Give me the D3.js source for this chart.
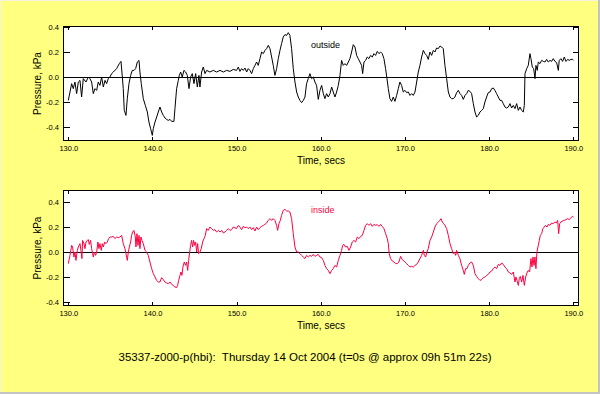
<!DOCTYPE html>
<html>
<head>
<meta charset="utf-8">
<script src="https://cdn.jsdelivr.net/npm/d3@7"></script>
<style>
  html, body { margin: 0; padding: 0; background: #ffff80; }
  svg { display: block; }
  text { font-family: "Liberation Sans", Arial, sans-serif; }
</style>
</head>
<body>
<svg id="chart" width="600" height="394"></svg>
<script>
// pressure traces, [time s, pressure kPa]
const outside = [
[130.00,-0.187],[130.40,-0.053],[130.59,-0.093],[130.79,-0.04],[130.99,-0.133],[131.19,-0.04],[131.39,-0.027],[131.58,-0.16],
[131.78,-0.013],[132.10,-0.04],[132.38,0],[132.57,-0.013],[132.77,-0.04],[132.97,-0.133],[133.17,-0.093],[133.37,-0.107],
[133.56,-0.04],[133.76,-0.067],[133.96,0],[134.16,-0.08],[134.36,-0.027],[134.55,-0.053],[134.75,-0.013],[134.95,0],
[135.15,0.027],[135.35,0.04],[135.74,0.067],[136.06,0.107],[136.26,0.125],[136.42,0],[136.53,-0.093],[136.65,-0.267],
[136.85,-0.307],[137.01,-0.173],[137.21,-0.053],[137.41,0.013],[137.60,0.053],[137.80,0.053],[138.00,0.067],[138.20,0.12],
[138.40,0.133],[138.51,0.04],[138.67,-0.053],[138.91,-0.173],[139.15,-0.227],[139.39,-0.28],[139.58,-0.36],[139.78,-0.413],
[139.98,-0.467],[140.10,-0.413],[140.30,-0.36],[140.50,-0.32],[140.69,-0.28],[140.89,-0.24],[141.09,-0.28],[141.29,-0.307],
[141.49,-0.328],[141.68,-0.339],[141.88,-0.347],[142.08,-0.339],[142.28,-0.355],[142.55,-0.355],[142.67,-0.253],[142.87,-0.093],
[143.07,-0.027],[143.19,0.013],[143.35,0.04],[143.54,0],[143.74,0.053],[143.94,0.04],[144.14,0.013],[144.34,-0.093],
[144.53,0],[144.73,0.027],[144.93,-0.053],[145.13,0.027],[145.33,-0.08],[145.52,0.013],[145.64,-0.08],[145.84,0.04],
[146.04,0.08],[146.24,0.027],[146.44,0.053],[146.83,0.04],[147.23,0.053],[147.62,0.04],[148.02,0.053],[148.42,0.04],
[148.81,0.053],[149.21,0.045],[149.60,0.061],
[149.99,0.053],[150.20,0.08],[150.39,0.045],[150.59,0.067],[150.79,0.053],[150.99,0.072],[151.19,0.04],[151.38,0.067],
[151.58,0.053],[151.78,0.027],[151.98,0.067],[152.18,0.093],[152.37,0.12],[152.57,0.093],[152.77,0.147],[152.97,0.2],
[153.17,0.187],[153.36,0.213],[153.56,0.227],[153.76,0.253],[153.96,0.227],[154.16,0.16],[154.35,0.093],[154.55,0.013],
[154.75,0.067],[154.95,0.147],[155.15,0.213],[155.34,0.267],[155.54,0.32],[155.74,0.339],[155.94,0.333],[156.14,0.355],
[156.33,0.333],[156.53,0.227],[156.73,0.067],[156.93,-0.04],[157.13,-0.12],[157.32,-0.16],[157.52,-0.187],[157.72,-0.205],
[157.92,-0.187],[158.12,-0.16],[158.31,-0.053],[158.51,-0.013],[158.71,0.027],[158.91,-0.013],[159.11,0],[159.30,-0.04],
[159.50,-0.067],[159.70,-0.179],[159.90,-0.107],[160.10,-0.067],[160.30,-0.133],[160.49,-0.173],[160.69,-0.133],[160.89,-0.16],
[161.09,-0.133],[161.29,-0.08],[161.48,-0.12],[161.68,-0.16],[161.88,-0.12],[162.08,-0.067],[162.28,0.013],[162.47,0.133],
[162.67,0.093],[162.87,0.107],[163.07,0.093],[163.27,0.12],[163.46,0.147],[163.66,0.2],[163.86,0.259],[164.06,0.24],
[164.26,0.173],[164.45,0.147],[164.65,0.12],[164.85,0.093],[164.97,0.027],[165.13,0.12],[165.32,0.133],[165.52,0.16],
[165.72,0.147],[165.92,0.173],[166.12,0.16],[166.31,0.187],[166.51,0.173],[166.71,0.205],[166.91,0.187],[167.11,0.2],
[167.30,0.187],[167.50,0.147],[167.70,0.067],[167.86,-0.013],[168.02,-0.093],[168.21,-0.173],[168.41,-0.195],[168.61,-0.16],
[168.81,-0.195],[169.01,-0.147],[169.21,-0.093],[169.40,-0.04],[169.60,-0.067],[169.80,-0.12],
[170.00,-0.107],[170.20,-0.125],[170.40,-0.12],[170.59,-0.147],[170.79,-0.133],[170.99,-0.147],[171.19,-0.12],[171.39,-0.04],
[171.58,0.04],[171.78,0.093],[171.98,0.16],[172.18,0.213],[172.38,0.187],[172.57,0.173],[172.77,0.141],[172.97,0.2],
[173.17,0.173],[173.37,0.213],[173.56,0.2],[173.76,0.232],[173.96,0.227],[174.16,0.248],[174.36,0.24],[174.55,0.227],
[174.75,0.093],[174.95,-0.013],[175.15,-0.12],[175.35,-0.16],[175.54,-0.173],[175.74,-0.173],[175.94,-0.16],[176.14,-0.125],
[176.34,-0.107],[176.53,-0.133],[176.73,-0.147],[176.93,-0.179],[177.13,-0.147],[177.33,-0.133],[177.52,-0.107],[177.72,-0.115],
[177.92,-0.133],[178.12,-0.213],[178.32,-0.28],[178.51,-0.32],[178.71,-0.307],[178.91,-0.28],[179.11,-0.267],[179.31,-0.253],
[179.50,-0.2],[179.70,-0.16],[179.90,-0.125],[180.10,-0.12],[180.30,-0.093],[180.50,-0.088],[180.69,-0.107],[180.89,-0.133],
[181.09,-0.16],[181.29,-0.187],[181.49,-0.187],[181.68,-0.213],[181.88,-0.24],[182.08,-0.248],[182.28,-0.24],[182.48,-0.213],
[182.67,-0.248],[182.87,-0.227],[183.07,-0.253],[183.27,-0.213],[183.47,-0.267],[183.66,-0.24],[183.86,-0.267],[184.06,-0.28],
[184.18,-0.227],[184.26,0.027],[184.46,0.067],[184.65,0.093],[184.85,0.187],[184.97,0.147],[185.13,0.08],[185.29,0.067],
[185.45,-0.013],[185.56,0.093],[185.72,0.053],[185.84,0.12],[186.04,0.107],[186.24,0.133],[186.44,0.125],[186.63,0.12],
[186.83,0.141],[187.03,0.12],[187.23,0.133],[187.43,0.125],[187.62,0.147],[187.82,0.125],[188.02,0.115],[188.22,0.053],
[188.33,0.133],[188.53,0.147],[188.73,0.125],[188.93,0.16],[189.13,0.125],[189.33,0.141],[189.52,0.133],[189.72,0.141],
[189.92,0.141],[190.04,0.133]
];

const inside = [
[130.00,-0.093],[130.20,-0.027],[130.40,0.053],[130.51,0.04],[130.67,-0.04],[130.79,0],[130.91,-0.067],[131.07,0.013],
[131.19,0.04],[131.39,0.067],[131.50,0.013],[131.62,-0.053],[131.70,0.093],[131.86,0.067],[131.98,0.027],[132.10,0.08],
[132.26,0.093],[132.38,0.099],[132.49,0.061],[132.65,0.093],[132.77,0.027],[132.89,-0.013],[132.97,-0.04],[133.09,0],
[133.25,-0.027],[133.37,0],[133.52,0.08],[133.64,0.027],[133.76,0.067],[133.92,0.013],[134.04,0.067],[134.16,0.04],
[134.32,0.08],[134.47,0.067],[134.63,0.08],[134.79,0.107],[134.95,0.12],[135.15,0.12],[135.35,0.125],[135.54,0.107],
[135.74,0.12],[135.94,0.115],[136.14,0.12],[136.34,0.133],[136.53,0.067],[136.73,0.027],[136.85,-0.013],[137.01,-0.067],
[137.13,0],[137.25,0.04],[137.41,0.08],[137.52,0.133],[137.64,0.16],[137.80,0.173],[137.96,0.12],[138.04,0.04],
[138.16,0.147],[138.28,0.053],[138.40,0.133],[138.51,0.027],[138.63,0.12],[138.75,0.093],[138.91,0.067],[139.11,0.013],
[139.31,0],[139.50,-0.027],[139.70,-0.08],[139.90,-0.133],[140.10,-0.173],[140.30,-0.2],[140.49,-0.227],[140.69,-0.24],
[140.89,-0.24],[141.09,-0.205],[141.29,-0.221],[141.48,-0.24],[141.68,-0.248],[141.88,-0.253],[142.08,-0.24],[142.28,-0.259],
[142.47,-0.267],[142.67,-0.28],[142.87,-0.285],[142.99,-0.267],[143.11,-0.227],[143.27,-0.187],[143.39,-0.16],[143.50,-0.187],
[143.62,-0.12],[143.78,-0.08],[143.94,-0.107],[144.06,-0.08],[144.18,-0.147],[144.30,-0.067],[144.42,0],[144.53,0.053],
[144.65,0.093],[144.77,0.04],[144.89,0.093],[145.01,0.053],[145.13,0.08],[145.25,0],[145.37,0.067],[145.48,-0.013],
[145.64,0],[145.80,0.027],[145.96,0.08],[146.12,0.107],[146.28,0.133],[146.43,0.187],[146.63,0.173],[146.83,0.2],
[147.03,0.187],[147.23,0.173],[147.42,0.179],[147.62,0.16],[147.82,0.173],[148.02,0.16],[148.22,0.173],[148.42,0.152],
[148.61,0.16],[148.81,0.173],[149.01,0.187],[149.21,0.173],[149.40,0.179],[149.60,0.2],
[149.99,0.187],[150.20,0.213],[150.39,0.2],[150.59,0.179],[150.79,0.205],[150.99,0.195],[151.19,0.2],[151.38,0.187],
[151.58,0.2],[151.78,0.179],[151.98,0.195],[152.18,0.168],[152.37,0.2],[152.57,0.179],[152.77,0.195],[152.97,0.205],
[153.17,0.213],[153.36,0.221],[153.56,0.232],[153.76,0.253],[153.96,0.267],[154.16,0.253],[154.35,0.267],[154.55,0.253],
[154.75,0.213],[154.87,0.173],[155.03,0.227],[155.19,0.253],[155.34,0.293],[155.54,0.333],[155.74,0.341],[155.94,0.328],
[156.14,0.328],[156.33,0.32],[156.53,0.267],[156.73,0.147],[156.93,0.04],[157.13,0],[157.32,0],[157.52,-0.013],
[157.72,-0.027],[157.92,-0.04],[158.12,-0.053],[158.31,-0.027],[158.51,-0.04],[158.71,-0.027],[158.91,-0.035],[159.11,-0.019],
[159.30,-0.035],[159.50,-0.027],[159.70,-0.019],[159.90,-0.04],[160.10,-0.045],[160.30,-0.067],[160.49,-0.107],[160.69,-0.133],
[160.89,-0.147],[161.09,-0.173],[161.29,-0.147],[161.48,-0.133],[161.68,-0.107],[161.88,-0.12],[162.08,-0.067],[162.28,-0.027],
[162.47,0.013],[162.59,0.053],[162.75,0.061],[162.95,0.04],[163.15,0.045],[163.34,0.013],[163.54,0.04],[163.74,0.08],
[163.94,0.093],[164.14,0.08],[164.33,0.12],[164.53,0.107],[164.73,0.125],[164.93,0.133],[165.13,0.173],[165.32,0.213],
[165.52,0.227],[165.72,0.213],[165.92,0.227],[166.12,0.205],[166.31,0.221],[166.51,0.213],[166.71,0.219],[166.91,0.205],
[167.11,0.221],[167.30,0.205],[167.50,0.187],[167.70,0.147],[167.90,0.107],[168.02,0.067],[168.13,-0.013],[168.29,-0.053],
[168.49,-0.072],[168.69,-0.08],[168.89,-0.093],[169.08,-0.093],[169.28,-0.08],[169.48,-0.035],[169.68,-0.061],[169.88,-0.072],
[170.00,-0.08],[170.20,-0.093],[170.40,-0.107],[170.59,-0.12],[170.79,-0.115],[170.99,-0.12],[171.19,-0.107],[171.39,-0.099],
[171.58,-0.08],[171.78,-0.053],[171.98,-0.027],[172.18,0.013],[172.30,-0.027],[172.46,-0.04],[172.61,0],[172.77,0.027],
[172.97,0.093],[173.17,0.12],[173.37,0.16],[173.56,0.2],[173.76,0.227],[173.96,0.24],[174.16,0.253],[174.28,0.267],
[174.44,0.24],[174.59,0.227],[174.75,0.213],[174.95,0.187],[175.15,0.133],[175.35,0.067],[175.54,0.027],[175.74,-0.013],
[175.86,0],[176.02,-0.027],[176.14,0.013],[176.34,-0.027],[176.53,-0.053],[176.73,-0.107],[176.93,-0.147],[177.05,-0.179],
[177.21,-0.133],[177.37,-0.133],[177.52,-0.107],[177.72,-0.088],[177.92,-0.08],[178.12,-0.107],[178.32,-0.173],[178.51,-0.195],
[178.71,-0.213],[178.91,-0.227],[179.11,-0.221],[179.31,-0.205],[179.50,-0.2],[179.70,-0.187],[179.90,-0.179],[180.10,-0.16],
[180.30,-0.152],[180.50,-0.133],[180.69,-0.12],[180.89,-0.133],[181.09,-0.099],[181.29,-0.107],[181.49,-0.088],[181.68,-0.099],
[181.88,-0.12],[182.08,-0.133],[182.28,-0.16],[182.48,-0.168],[182.67,-0.179],[182.87,-0.16],[183.07,-0.24],[183.19,-0.2],
[183.31,-0.227],[183.47,-0.267],[183.58,-0.213],[183.70,-0.195],[183.86,-0.24],[184.02,-0.187],[184.18,-0.267],[184.34,-0.2],
[184.49,-0.168],[184.65,-0.147],[184.81,-0.16],[184.97,-0.053],[185.09,-0.12],[185.21,-0.04],[185.33,-0.107],[185.45,-0.04],
[185.56,-0.133],[185.68,0],[185.84,0.053],[185.96,0.093],[186.08,0.133],[186.24,0.147],[186.39,0.187],[186.55,0.2],
[186.71,0.213],[186.87,0.2],[187.03,0.221],[187.23,0.213],[187.43,0.232],[187.62,0.227],[187.82,0.24],[188.02,0.232],
[188.14,0.253],[188.26,0.147],[188.38,0.227],[188.53,0.24],[188.73,0.248],[188.93,0.253],[189.13,0.259],[189.33,0.267],
[189.52,0.259],[189.72,0.275],[189.92,0.285],[190.04,0.28]
];

const xTicks = [130, 140, 150, 160, 170, 180, 190];
const yTicks = [-0.4, -0.2, 0, 0.2, 0.4];
const title = "35337-z000-p(hbi):  Thursday 14 Oct 2004 (t=0s @ approx 09h 51m 22s)";

const svg = d3.select('#chart');

// page border
svg.append('rect').attr('x', 0).attr('y', 0).attr('width', 600).attr('height', 394).attr('fill', '#ffff80');
svg.append('path').attr('d', 'M0.5,394 V0.5 H600').attr('fill', 'none').attr('stroke', '#f4f4e0').attr('stroke-width', 1);
svg.append('path').attr('d', 'M599,0 V393 H0').attr('fill', 'none').attr('stroke', '#c4c4c4').attr('stroke-width', 2);

const x = d3.scaleLinear().domain([130, 190]).range([68.3, 573.3]);

function drawPanel(series, cfg) {
  const y = d3.scaleLinear().domain(cfg.yDomain).range([cfg.bottom, cfg.top]);
  const g = svg.append('g');
  const left = 63, right = 579;

  g.append('rect')
    .attr('x', left).attr('y', cfg.top)
    .attr('width', right - left).attr('height', cfg.bottom - cfg.top)
    .attr('fill', '#fff');

  const axisStyle = a => a.call(s => s.select('.domain').remove())
    .call(s => s.selectAll('line').attr('stroke', '#000').attr('shape-rendering', 'crispEdges'))
    .call(s => s.selectAll('text').attr('font-size', 7.5).attr('font-family', '"Liberation Sans", Arial, sans-serif').attr('fill', '#000'));

  g.append('g').attr('transform', `translate(0,${cfg.bottom})`)
    .call(d3.axisBottom(x).tickValues(xTicks).tickFormat(d => d.toFixed(1)).tickSize(-4).tickSizeOuter(0).tickPadding(5))
    .call(axisStyle);
  g.append('g').attr('transform', `translate(0,${cfg.top})`)
    .call(d3.axisTop(x).tickValues(xTicks).tickFormat('').tickSize(-4).tickSizeOuter(0))
    .call(axisStyle);
  g.append('g').attr('transform', `translate(${left},0)`)
    .call(d3.axisLeft(y).tickValues(yTicks).tickFormat(d => d.toFixed(1)).tickSize(-7).tickSizeOuter(0).tickPadding(4))
    .call(axisStyle);
  g.append('g').attr('transform', `translate(${right},0)`)
    .call(d3.axisRight(y).tickValues(yTicks).tickFormat('').tickSize(-6).tickSizeOuter(0))
    .call(axisStyle);

  // zero line
  g.append('line')
    .attr('x1', left).attr('x2', right)
    .attr('y1', Math.round(y(0)) + 0.5).attr('y2', Math.round(y(0)) + 0.5)
    .attr('stroke', '#000');

  const line = d3.line().x(d => x(d[0])).y(d => y(d[1]));
  g.append('path')
    .datum(series)
    .attr('d', line)
    .attr('fill', 'none')
    .attr('stroke', cfg.color)
    .attr('stroke-width', 1);

  // frame
  g.append('rect')
    .attr('x', left + 0.5).attr('y', cfg.top + 0.5)
    .attr('width', right - left - 1).attr('height', cfg.bottom - cfg.top - 1)
    .attr('fill', 'none').attr('stroke', '#000').attr('shape-rendering', 'crispEdges');

  g.append('text')
    .attr('transform', `translate(41,${(cfg.top + cfg.bottom) / 2}) rotate(-90)`)
    .attr('text-anchor', 'middle')
    .attr('font-size', 10)
    .text('Pressure, kPa');

  g.append('text')
    .attr('x', 321).attr('y', cfg.bottom + 22.5)
    .attr('text-anchor', 'middle')
    .attr('font-size', 10)
    .text('Time, secs');

  g.append('text')
    .attr('x', 311).attr('y', cfg.top + cfg.labelDy)
    .attr('font-size', 9)
    .attr('fill', cfg.color)
    .text(cfg.label);
}

drawPanel(outside, { top: 26, bottom: 141, yDomain: [-0.512, 0.408], color: '#000', label: 'outside', labelDy: 22 });
drawPanel(inside, { top: 190, bottom: 306, yDomain: [-0.432, 0.496], color: '#ff0040', label: 'inside', labelDy: 23 });

svg.append('text')
  .attr('x', 305).attr('y', 361)
  .attr('text-anchor', 'middle')
  .attr('font-size', 11.5)
  .attr('xml:space', 'preserve')
  .style('white-space', 'pre')
  .text(title);
</script>
</body>
</html>
